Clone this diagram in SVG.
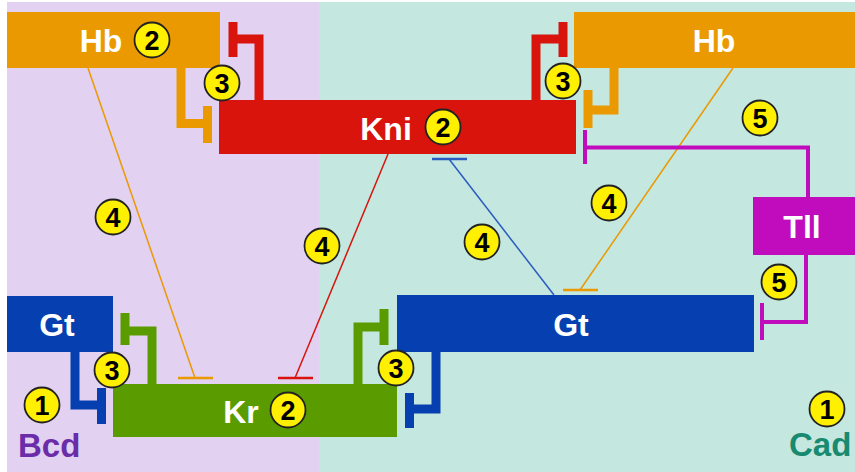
<svg xmlns="http://www.w3.org/2000/svg" width="855" height="472" viewBox="0 0 855 472">
<style>
.lbl{font-family:"Liberation Sans",Arial,sans-serif;font-weight:bold;font-size:32px;fill:#fff;text-anchor:middle}
.bd circle{fill:#FFEF00;stroke:#222;stroke-width:1.8}
.bd text{font-family:"Liberation Sans",Arial,sans-serif;font-weight:bold;font-size:27px;fill:#000;text-anchor:middle}
.thick{fill:none;stroke-width:9;stroke-linejoin:miter}
.mag{fill:none;stroke:#C00CBC;stroke-width:4}
.thin{fill:none;stroke-width:1.5}
.bar{stroke-width:2.5}
</style>
<rect x="0" y="0" width="855" height="472" fill="#ffffff"/>
<rect x="7" y="2" width="312" height="470" fill="#E2D1F1"/>
<rect x="319" y="2" width="536" height="470" fill="#C4E7E0"/>

<g id="connectors">
  <line class="thin" x1="88" y1="68" x2="195" y2="378" stroke="#EA9A00"/>
  <line class="bar" x1="178" y1="378" x2="213" y2="378" stroke="#EA9A00"/>
  <line class="thin" x1="388" y1="154" x2="295" y2="378" stroke="#D8140C"/>
  <line class="bar" x1="278" y1="378" x2="313" y2="378" stroke="#D8140C"/>
  <line class="thin" x1="554" y1="295" x2="449" y2="159" stroke="#2A5CC0"/>
  <line class="bar" x1="432" y1="159" x2="467" y2="159" stroke="#2A5CC0"/>
  <line class="thin" x1="733" y1="68" x2="580" y2="290" stroke="#EA9A00"/>
  <line class="bar" x1="563" y1="290" x2="598" y2="290" stroke="#EA9A00"/>

  <path class="thick" d="M181,68 V123.5 H207" stroke="#EA9A00"/>
  <line x1="207.5" y1="106" x2="207.5" y2="143" stroke="#EA9A00" stroke-width="9"/>
  <path class="thick" d="M259,100 V39 H233" stroke="#D8140C"/>
  <line x1="233" y1="22" x2="233" y2="57" stroke="#D8140C" stroke-width="9"/>
  <path class="thick" d="M536,100 V39 H563" stroke="#D8140C"/>
  <line x1="563" y1="22" x2="563" y2="57" stroke="#D8140C" stroke-width="9"/>
  <path class="thick" d="M614,68 V110 H588" stroke="#EA9A00"/>
  <line x1="588" y1="90" x2="588" y2="128" stroke="#EA9A00" stroke-width="9"/>

  <path class="mag" d="M808,197 V147.5 H585"/>
  <line x1="585" y1="130" x2="585" y2="164" stroke="#C00CBC" stroke-width="4"/>
  <path class="mag" d="M806,255 V322 H762"/>
  <line x1="762" y1="303" x2="762" y2="340" stroke="#C00CBC" stroke-width="4"/>

  <path class="thick" d="M75,352 V405 H101" stroke="#0640B0"/>
  <line x1="101.5" y1="388" x2="101.5" y2="424" stroke="#0640B0" stroke-width="9"/>
  <path class="thick" d="M436,352 V409 H409" stroke="#0640B0"/>
  <line x1="409.5" y1="393" x2="409.5" y2="428" stroke="#0640B0" stroke-width="9"/>
  <path class="thick" d="M152,384 V331 H125" stroke="#5A9C00"/>
  <line x1="125" y1="313" x2="125" y2="345" stroke="#5A9C00" stroke-width="9"/>
  <path class="thick" d="M358,384 V327 H384" stroke="#5A9C00"/>
  <line x1="384" y1="309" x2="384" y2="345" stroke="#5A9C00" stroke-width="9"/>
</g>

<g id="hb-left">
  <rect x="7" y="12" width="213" height="56" fill="#EA9A00"/>
  <text class="lbl" x="101" y="52">Hb</text>
</g>
<g id="hb-right">
  <rect x="574" y="12" width="281" height="56" fill="#EA9A00"/>
  <text class="lbl" x="714" y="52">Hb</text>
</g>
<g id="kni">
  <rect x="219" y="100" width="357" height="54" fill="#D8140C"/>
  <text class="lbl" x="386" y="140">Kni</text>
</g>
<g id="tll">
  <rect x="753" y="197" width="102" height="58" fill="#C00CBC"/>
  <text class="lbl" x="802" y="238">Tll</text>
</g>
<g id="gt-left">
  <rect x="7" y="296" width="106" height="56" fill="#0640B0"/>
  <text class="lbl" x="57" y="336">Gt</text>
</g>
<g id="gt-right">
  <rect x="397" y="295" width="357" height="57" fill="#0640B0"/>
  <text class="lbl" x="571" y="336">Gt</text>
</g>
<g id="kr">
  <rect x="113" y="384" width="284" height="53" fill="#5A9C00"/>
  <text class="lbl" x="241" y="423">Kr</text>
</g>
<g id="bcd">
  <text x="18" y="457" font-family="Liberation Sans,Arial,sans-serif" font-weight="bold" font-size="33" fill="#6A2CA8">Bcd</text>
</g>
<g id="cad">
  <text x="789" y="456" font-family="Liberation Sans,Arial,sans-serif" font-weight="bold" font-size="33" fill="#178A70">Cad</text>
</g>

<g id="badges" class="bd">
  <g><circle cx="152" cy="40" r="17.5"/><text x="152" y="49.5">2</text></g>
  <g><circle cx="443" cy="127" r="17.5"/><text x="443" y="136.5">2</text></g>
  <g><circle cx="288" cy="410" r="17.5"/><text x="288" y="419.5">2</text></g>
  <g><circle cx="222" cy="83" r="17.5"/><text x="222" y="92.5">3</text></g>
  <g><circle cx="563" cy="81" r="17.5"/><text x="563" y="90.5">3</text></g>
  <g><circle cx="112" cy="370" r="17.5"/><text x="112" y="379.5">3</text></g>
  <g><circle cx="396" cy="368" r="17.5"/><text x="396" y="377.5">3</text></g>
  <g><circle cx="113" cy="217" r="17.5"/><text x="113" y="226.5">4</text></g>
  <g><circle cx="322" cy="246" r="17.5"/><text x="322" y="255.5">4</text></g>
  <g><circle cx="482" cy="242" r="17.5"/><text x="482" y="251.5">4</text></g>
  <g><circle cx="609" cy="203" r="17.5"/><text x="609" y="212.5">4</text></g>
  <g><circle cx="760" cy="118" r="17.5"/><text x="760" y="127.5">5</text></g>
  <g><circle cx="779" cy="282" r="17.5"/><text x="779" y="291.5">5</text></g>
  <g><circle cx="42" cy="405" r="17.5"/><text x="42" y="414.5">1</text></g>
  <g><circle cx="827" cy="409" r="17.5"/><text x="827" y="418.5">1</text></g>
</g>
</svg>
